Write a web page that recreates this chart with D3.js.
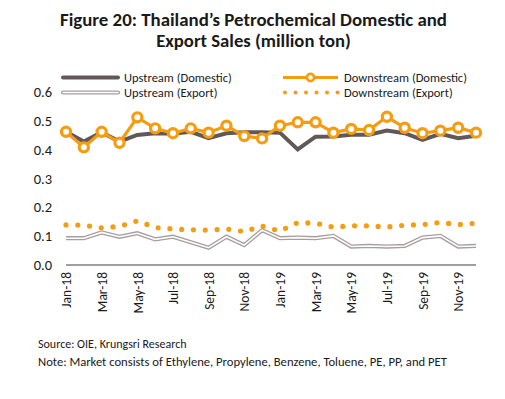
<!DOCTYPE html>
<html lang="en">
<head>
<meta charset="utf-8">
<script src="https://cdn.jsdelivr.net/npm/d3@7"></script>
<style>
  body { margin: 0; background: #fff; }
  text { font-family: Carlito, Lato, "Open Sans", sans-serif; fill: #1a1a1a; }
</style>
</head>
<body>
<script>
// chart values
const months = ["Jan-18","Feb-18","Mar-18","Apr-18","May-18","Jun-18","Jul-18","Aug-18","Sep-18","Oct-18","Nov-18","Dec-18",
                "Jan-19","Feb-19","Mar-19","Apr-19","May-19","Jun-19","Jul-19","Aug-19","Sep-19","Oct-19","Nov-19","Dec-19"];
const upstreamDomestic   = [0.462,0.428,0.460,0.428,0.451,0.457,0.455,0.462,0.440,0.457,0.460,0.460,
                            0.459,0.401,0.445,0.446,0.452,0.452,0.466,0.457,0.434,0.455,0.440,0.448];
const downstreamDomestic = [0.462,0.408,0.462,0.424,0.512,0.474,0.457,0.474,0.459,0.483,0.447,0.439,
                            0.483,0.495,0.495,0.459,0.472,0.468,0.514,0.476,0.457,0.466,0.476,0.459];
const upstreamExport     = [0.093,0.093,0.113,0.098,0.110,0.089,0.098,0.079,0.060,0.098,0.069,0.121,
                            0.093,0.095,0.093,0.101,0.064,0.066,0.064,0.066,0.095,0.101,0.064,0.066];
const downstreamExport   = [0.139,0.138,0.129,0.134,0.153,0.130,0.125,0.122,0.121,0.125,0.116,0.135,
                            0.118,0.147,0.145,0.131,0.136,0.136,0.132,0.138,0.140,0.148,0.140,0.145];
const yTicks = [0, 0.1, 0.2, 0.3, 0.4, 0.5, 0.6];
const xTickLabels = months.filter((m, i) => i % 2 === 0);

const titleLines = ["Figure 20: Thailand\u2019s Petrochemical Domestic and", "Export Sales (million ton)"];
const footLines = ["Source: OIE, Krungsri Research",
                   "Note: Market consists of Ethylene, Propylene, Benzene, Toluene, PE, PP, and PET"];

const W = 505, H = 399;
const orange = "#f59d12", dark = "#625858", light = "#a89d9d";

const svg = d3.select("body").append("svg")
  .attr("width", W).attr("height", H);

// fit a text element to a width, scaling the font size
function fitWidth(sel, width) {
  const node = sel.node();
  const fs = parseFloat(sel.attr("font-size"));
  const w = node.getComputedTextLength();
  if (w > 0) sel.attr("font-size", (fs * width / w).toFixed(2));
}

// title
svg.append("text").attr("x", 253.5).attr("y", 26).attr("text-anchor", "middle")
  .attr("font-size", 18).attr("font-weight", "bold").text(titleLines[0])
  .call(fitWidth, 387);
svg.append("text").attr("x", 253.5).attr("y", 47).attr("text-anchor", "middle")
  .attr("font-size", 18).attr("font-weight", "bold").text(titleLines[1])
  .call(fitWidth, 195);

const x = d3.scalePoint().domain(months).range([66, 476]);
const y = d3.scaleLinear().domain([0, 0.6]).range([265, 92]);

// y labels (no axis line)
svg.append("g").selectAll("text").data(yTicks).join("text")
  .attr("x", 52).attr("y", d => y(d)).attr("dy", "0.35em")
  .attr("text-anchor", "end").attr("font-size", 14.5)
  .text(d3.format(".1f"));

// x axis
const xAxis = svg.append("g").attr("transform", "translate(0,265)")
  .call(d3.axisBottom(x).tickValues(xTickLabels).tickSize(0).tickPadding(0));
xAxis.select(".domain").attr("stroke", "#404040").attr("stroke-width", 1.2).attr("d", "M66,0H476");
xAxis.selectAll(".tick text")
  .attr("transform", "rotate(-90)")
  .attr("x", -7).attr("y", 0).attr("dy", "0.35em")
  .attr("text-anchor", "end")
  .style("font-family", "Carlito, Lato, sans-serif")
  .attr("font-size", 13.5).attr("fill", "#1a1a1a");

const line = d3.line().x((d, i) => x(months[i])).y(d => y(d));

// upstream export: double line
svg.append("path").attr("d", line(upstreamExport)).attr("fill", "none")
  .attr("stroke", light).attr("stroke-width", 4.2);
svg.append("path").attr("d", line(upstreamExport)).attr("fill", "none")
  .attr("stroke", "#fff").attr("stroke-width", 1.6);

// downstream export: round dots
svg.append("path").attr("d", line(downstreamExport)).attr("fill", "none")
  .attr("stroke", orange).attr("stroke-width", 5.2)
  .attr("stroke-linecap", "round").attr("stroke-dasharray", "0 11.8");

// upstream domestic
svg.append("path").attr("d", line(upstreamDomestic)).attr("fill", "none")
  .attr("stroke", dark).attr("stroke-width", 4);

// downstream domestic with markers
svg.append("path").attr("d", line(downstreamDomestic)).attr("fill", "none")
  .attr("stroke", orange).attr("stroke-width", 3.2);
svg.append("g").selectAll("circle").data(downstreamDomestic).join("circle")
  .attr("cx", (d, i) => x(months[i])).attr("cy", d => y(d)).attr("r", 4.6)
  .attr("fill", "#fff").attr("stroke", orange).attr("stroke-width", 3.2);

// legend
const legend = [
  {name: "Upstream (Domestic)",   x: 63,  y: 77.5, style: "dark"},
  {name: "Downstream (Domestic)", x: 283, y: 77.5, style: "marker"},
  {name: "Upstream (Export)",     x: 63,  y: 92.5, style: "double"},
  {name: "Downstream (Export)",   x: 283, y: 92.5, style: "dots"}
];
legend.forEach(l => {
  const g = svg.append("g").attr("transform", `translate(${l.x},${l.y})`);
  const seg = "M0,0H55";
  if (l.style === "dark") {
    g.append("path").attr("d", seg).attr("stroke", dark).attr("stroke-width", 4).attr("stroke-linecap", "round");
  } else if (l.style === "double") {
    g.append("path").attr("d", seg).attr("stroke", light).attr("stroke-width", 4.2).attr("stroke-linecap", "round");
    g.append("path").attr("d", seg).attr("stroke", "#fff").attr("stroke-width", 1.6).attr("stroke-linecap", "round");
  } else if (l.style === "marker") {
    g.append("path").attr("d", seg).attr("stroke", orange).attr("stroke-width", 3.2);
    g.append("circle").attr("cx", 27.5).attr("r", 3.6).attr("fill", "#fff")
      .attr("stroke", orange).attr("stroke-width", 2.6);
  } else {
    g.append("path").attr("d", "M2,0H55").attr("stroke", orange).attr("stroke-width", 4)
      .attr("stroke-linecap", "round").attr("stroke-dasharray", "0 10.5");
  }
  g.append("text").attr("x", 61).attr("y", 0).attr("dy", "0.35em")
    .attr("font-size", 12.5).text(l.name);
});

// footer
footLines.forEach((s, i) => {
  const t = svg.append("text").attr("x", 38).attr("y", 348 + i * 18)
    .attr("font-size", 12).text(s);
  if (i === 1) t.call(fitWidth, 409);
});
</script>
</body>
</html>
